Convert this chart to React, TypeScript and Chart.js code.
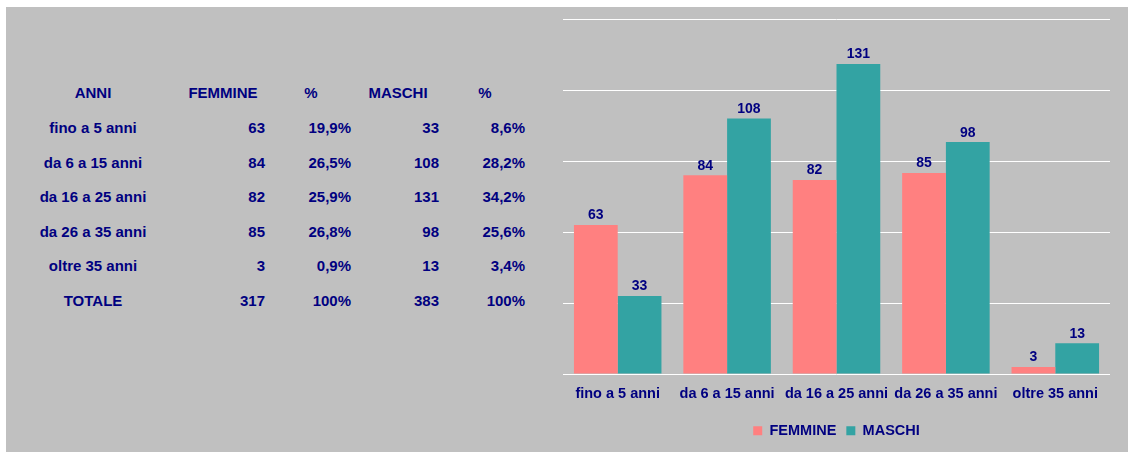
import React, { useEffect, useRef } from "react";
import { Chart, registerables } from "chart.js";

Chart.register(...registerables);

// ---- data ----
const categories = ["fino a 5 anni", "da 6 a 15 anni", "da 16 a 25 anni", "da 26 a 35 anni", "oltre 35 anni"];
const femmine = [63, 84, 82, 85, 3];
const maschi = [33, 108, 131, 98, 13];
const femminePct = ["19,9%", "26,5%", "25,9%", "26,8%", "0,9%"];
const maschiPct = ["8,6%", "28,2%", "34,2%", "25,6%", "3,4%"];
const tableHeaders = ["ANNI", "FEMMINE", "%", "MASCHI", "%"];
const totalLabel = "TOTALE";
const totals = ["317", "100%", "383", "100%"];
const seriesNames = ["FEMMINE", "MASCHI"];
const yTicks = [0, 30, 60, 90, 120, 150];

// ---- style ----
const NAVY = "#000080";
const PINK = "#FF8080";
const TEAL = "#33A3A3";
const GRAY = "#C0C0C0";
const FONT = "'Liberation Sans', Arial, Helvetica, sans-serif";

const valueLabels = {
  id: "valueLabels",
  afterDatasetsDraw(chart: any) {
    const ctx = chart.ctx;
    ctx.save();
    ctx.font = `bold 14px ${FONT}`;
    ctx.fillStyle = NAVY;
    ctx.textAlign = "center";
    ctx.textBaseline = "alphabetic";
    chart.data.datasets.forEach((ds: any, i: number) => {
      const meta = chart.getDatasetMeta(i);
      meta.data.forEach((el: any, j: number) => {
        ctx.fillText(String(ds.data[j]), el.x, el.y - 5.5);
      });
    });
    ctx.restore();
  },
};

// table layout (page coordinates)
const headerCenters = [93, 223, 311, 398, 485];
const valueRights = [265, 351, 439, 525];
const firstRowCenter = 93.3;
const rowStep = 34.6;

function Cell(props: { text: string; cy: number; center?: number; right?: number }) {
  const { text, cy, center, right } = props;
  const style: React.CSSProperties = {
    position: "absolute",
    top: cy - 10,
    height: 20,
    lineHeight: "20px",
    fontFamily: FONT,
    fontWeight: "bold",
    fontSize: 15,
    color: NAVY,
    whiteSpace: "nowrap",
  };
  if (center !== undefined) {
    style.left = center - 100;
    style.width = 200;
    style.textAlign = "center";
  } else if (right !== undefined) {
    style.left = right - 200;
    style.width = 200;
    style.textAlign = "right";
  }
  return <div style={style}>{text}</div>;
}

export default function App() {
  const canvasRef = useRef<HTMLCanvasElement | null>(null);

  useEffect(() => {
    if (!canvasRef.current) return;
    const chart = new Chart(canvasRef.current, {
      type: "bar",
      data: {
        labels: categories,
        datasets: [
          { label: seriesNames[0], data: femmine, backgroundColor: PINK, borderWidth: 0 },
          { label: seriesNames[1], data: maschi, backgroundColor: TEAL, borderWidth: 0 },
        ],
      },
      options: {
        responsive: false,
        animation: false,
        devicePixelRatio: 1,
        layout: { padding: { left: 23, right: 18, top: 19, bottom: 4 } },
        datasets: { bar: { categoryPercentage: 0.8, barPercentage: 1 } },
        plugins: {
          legend: {
            position: "bottom",
            labels: {
              boxWidth: 9,
              boxHeight: 9,
              padding: 10,
              color: NAVY,
              font: { family: FONT, size: 14.5, weight: "bold" },
            },
          },
          tooltip: { enabled: false },
          title: { display: false },
        },
        scales: {
          x: {
            grid: { display: false, drawTicks: false },
            border: { display: false },
            ticks: {
              color: NAVY,
              font: { family: FONT, size: 14.5, weight: "bold" },
              padding: 11,
              maxRotation: 0,
              autoSkip: false,
            },
          },
          y: {
            min: yTicks[0],
            max: yTicks[yTicks.length - 1],
            grid: { color: "#FFFFFF", lineWidth: 1, drawTicks: false },
            border: { display: false },
            ticks: { display: false, stepSize: yTicks[1] - yTicks[0] },
          },
        },
      },
      plugins: [valueLabels],
    } as any);
    return () => chart.destroy();
  }, []);

  const rows: string[][] = categories.map((c, i) => [c, String(femmine[i]), femminePct[i], String(maschi[i]), maschiPct[i]]);
  rows.push([totalLabel, ...totals]);

  return (
    <div style={{ position: "fixed", left: 0, top: 0, width: 1128, height: 452, background: "#FFFFFF", overflow: "hidden" }}>
      <div style={{ position: "absolute", left: 6, top: 7, width: 1122, height: 445, background: GRAY }} />
      {tableHeaders.map((h, i) => (
        <Cell key={"h" + i} text={h} cy={firstRowCenter} center={headerCenters[i]} />
      ))}
      {rows.map((r, ri) =>
        r.map((t, ci) =>
          ci === 0 ? (
            <Cell key={ri + "-" + ci} text={t} cy={firstRowCenter + (ri + 1) * rowStep} center={headerCenters[0]} />
          ) : (
            <Cell key={ri + "-" + ci} text={t} cy={firstRowCenter + (ri + 1) * rowStep} right={valueRights[ci - 1]} />
          )
        )
      )}
      <canvas
        ref={canvasRef}
        width={588}
        height={452}
        style={{ position: "absolute", left: 540, top: 0, width: 588, height: 452 }}
      />
    </div>
  );
}
